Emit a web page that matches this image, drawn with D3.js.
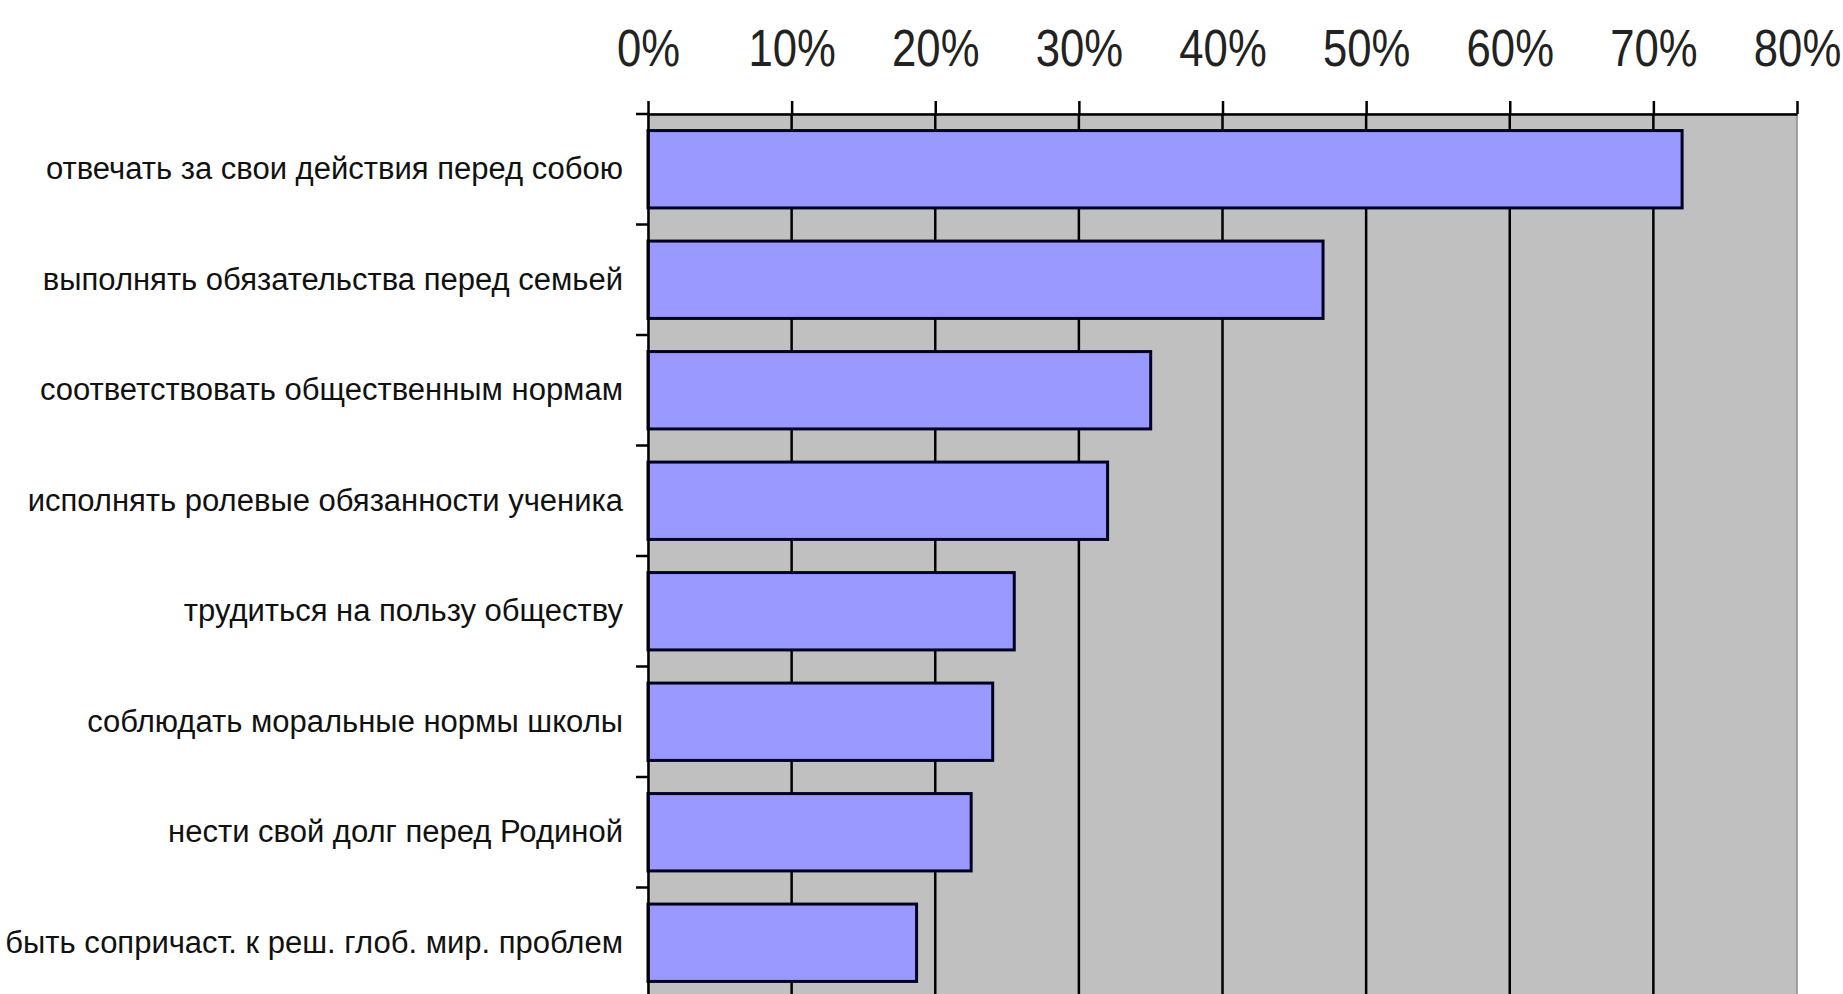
<!DOCTYPE html>
<html>
<head>
<meta charset="utf-8">
<script src="https://cdn.jsdelivr.net/npm/d3@7"></script>
<style>
  body { margin: 0; background: #fff; }
  svg { display: block; }
</style>
</head>
<body>
<svg id="chart"></svg>
<script>
// Data
const categories = [
    "отвечать за свои действия перед собою",
    "выполнять обязательства перед семьей",
    "соответствовать общественным нормам",
    "исполнять ролевые обязанности ученика",
    "трудиться на пользу обществу",
    "соблюдать моральные нормы школы",
    "нести свой долг перед Родиной",
    "быть сопричаст. к реш. глоб. мир. проблем"
];
const values = [0.72, 0.47, 0.35, 0.32, 0.255, 0.24, 0.225, 0.187];
const tickValues = [0, 0.1, 0.2, 0.3, 0.4, 0.5, 0.6, 0.7, 0.8];

const svgWidth = 1843;
const svgHeight = 994;
const plot = { left: 648, right: 1797, top: 114, bottom: 998 };

const svg = d3.select("#chart")
    .attr("width", svgWidth)
    .attr("height", svgHeight);

const xScale = d3.scaleLinear()
    .domain([0, 0.8])
    .range([plot.left, plot.right]);

const yScale = d3.scaleBand()
    .domain(categories)
    .range([plot.top, plot.bottom])
    .paddingInner(0.3)
    .paddingOuter(0.15);

// Gray plot area
svg.append("rect")
    .attr("x", plot.left)
    .attr("y", plot.top)
    .attr("width", plot.right - plot.left)
    .attr("height", plot.bottom - plot.top)
    .attr("fill", "#c0c0c0")
    .attr("stroke", "#8c8c8c")
    .attr("stroke-width", 1.5);

// Vertical gridlines
svg.append("g")
    .selectAll("line")
    .data(tickValues.slice(1, -1))
    .enter().append("line")
    .attr("x1", d => xScale(d))
    .attr("x2", d => xScale(d))
    .attr("y1", plot.top)
    .attr("y2", plot.bottom)
    .attr("stroke", "#000")
    .attr("stroke-width", 2.5);

// Bars
svg.append("g")
    .selectAll("rect")
    .data(values)
    .enter().append("rect")
    .attr("x", xScale(0))
    .attr("y", (d, i) => yScale(categories[i]))
    .attr("width", d => xScale(d) - xScale(0))
    .attr("height", yScale.bandwidth())
    .attr("fill", "#9999ff")
    .attr("stroke", "#000022")
    .attr("stroke-width", 3);

// Top axis
const xAxis = svg.append("g")
    .attr("transform", `translate(0,${plot.top})`)
    .call(d3.axisTop(xScale)
        .tickValues(tickValues)
        .tickFormat(d3.format(".0%"))
        .tickSizeInner(13)
        .tickSizeOuter(0)
        .tickPadding(35));
xAxis.select(".domain").attr("stroke", "#000").attr("stroke-width", 2.5);
xAxis.selectAll(".tick line").attr("stroke", "#000").attr("stroke-width", 2.5);
// narrow the labels like the original condensed font
xAxis.selectAll("text")
    .attr("fill", "#222")
    .attr("transform", "scale(0.84,1)")
    .style("font-family", "'Liberation Sans', Arial, sans-serif")
    .style("font-size", "52px");
xAxis.selectAll(".tick").each(function(d) {
    const t = d3.select(this).select("text");
    t.attr("x", 0);
});

// Left axis with category labels
const yAxis = svg.append("g")
    .attr("transform", `translate(${plot.left},0)`)
    .call(d3.axisLeft(yScale)
        .tickSize(0)
        .tickPadding(25));
yAxis.select(".domain").attr("stroke", "#000").attr("stroke-width", 2.5);
yAxis.selectAll("text")
    .attr("fill", "#111")
    .style("font-family", "'Liberation Sans', Arial, sans-serif")
    .style("font-size", "31px");

// Tick marks between categories
const step = yScale.step();
const boundaries = d3.range(categories.length + 1).map(i => plot.top + i * step);
svg.append("g")
    .selectAll("line")
    .data(boundaries)
    .enter().append("line")
    .attr("x1", plot.left - 12)
    .attr("x2", plot.left)
    .attr("y1", d => d)
    .attr("y2", d => d)
    .attr("stroke", "#000")
    .attr("stroke-width", 2.5);
</script>
</body>
</html>
